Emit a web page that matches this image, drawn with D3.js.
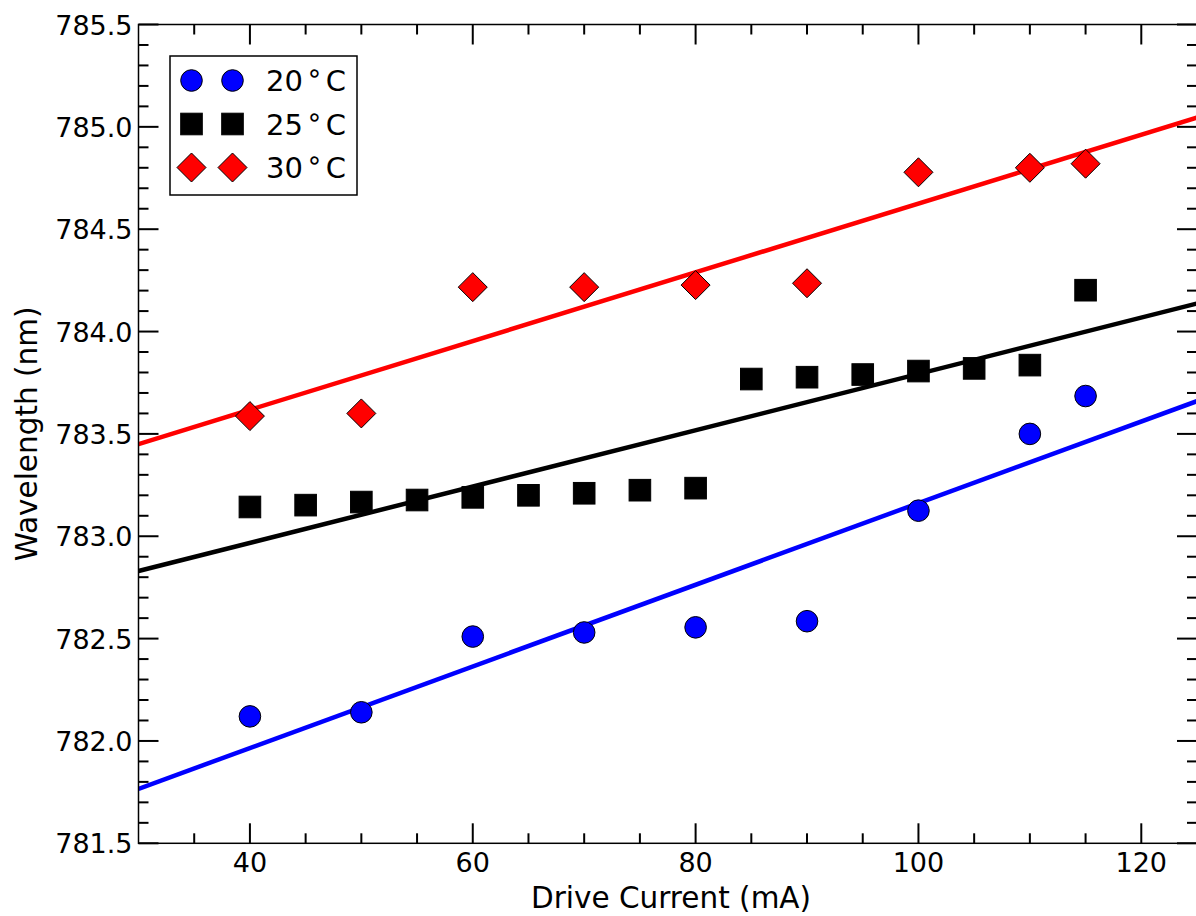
<!DOCTYPE html>
<html lang="en">
<head>
<meta charset="UTF-8">
<title>Wavelength vs Drive Current</title>
<script src="https://d3js.org/d3.v7.min.js"></script>
<style>
  body { margin: 0; background: #fff; }
  svg { display: block; font-family: "DejaVu Sans", sans-serif; }
  .tick-label { font-size: 27px; fill: #000; }
  .axis-title { font-size: 29.5px; fill: #000; }
  .legend-text { font-size: 29px; fill: #000; }
</style>
</head>
<body>
<svg width="1196" height="916"></svg>
<script>
// data
const current20 = [40, 50, 60, 70, 80, 90, 100, 110, 115];
const wave20 = [782.12, 782.14, 782.51, 782.53, 782.555, 782.585, 783.125, 783.50, 783.685];

const current25 = [40, 45, 50, 55, 60, 65, 70, 75, 80, 85, 90, 95, 100, 105, 110, 115];
const wave25 = [783.143, 783.152, 783.167, 783.177, 783.19, 783.2, 783.21, 783.225, 783.235,
                783.768, 783.777, 783.79, 783.807, 783.82, 783.836, 784.202];

const current30 = [40, 50, 60, 70, 80, 90, 100, 110, 115];
const wave30 = [783.587, 783.60, 784.217, 784.217, 784.227, 784.236, 784.778, 784.80, 784.82];

// fitted lines, end values at 30 and 125 mA
const fitX = [30, 125];
const fit20 = [781.766, 783.66];
const fit25 = [782.83, 784.137];
const fit30 = [783.45, 785.045];

const xTicks = [40, 60, 80, 100, 120];
const yTicks = [781.5, 782.0, 782.5, 783.0, 783.5, 784.0, 784.5, 785.0, 785.5];

const series = [
  {label: "20", x: current20, y: wave20, fit: fit20, color: "#0000ff", shape: "circle"},
  {label: "25", x: current25, y: wave25, fit: fit25, color: "#000000", shape: "square"},
  {label: "30", x: current30, y: wave30, fit: fit30, color: "#ff0000", shape: "diamond"}
];

const svg = d3.select("svg");
const pLeft = 138.5, pRight = 1197, pTop = 24.5, pBottom = 843.3;

const x = d3.scaleLinear().domain([30, 125]).range([pLeft, pRight]);
const y = d3.scaleLinear().domain([781.5, 785.5]).range([pBottom, pTop]);

// clip for the plot area
svg.append("clipPath").attr("id", "clip")
  .append("rect").attr("x", pLeft).attr("y", pTop)
  .attr("width", pRight - pLeft).attr("height", pBottom - pTop);

const plot = svg.append("g");

// fit lines
const line = d3.line().x(d => x(d[0])).y(d => y(d[1]));
plot.append("g").attr("clip-path", "url(#clip)")
  .selectAll("path")
  .data(series)
  .enter().append("path")
  .attr("d", s => line(fitX.map((v, i) => [v, s.fit[i]])))
  .attr("fill", "none")
  .attr("stroke", s => s.color)
  .attr("stroke-width", 4.5);

// markers
function drawMarker(g, shape, color) {
  if (shape === "circle") {
    g.append("circle").attr("r", 10.8).attr("fill", color)
      .attr("stroke", "#000").attr("stroke-width", 1);
  } else if (shape === "square") {
    g.append("rect").attr("x", -10.8).attr("y", -10.8).attr("width", 21.6).attr("height", 21.6)
      .attr("fill", color).attr("stroke", "#000").attr("stroke-width", 1);
  } else {
    g.append("path").attr("d", "M0,-14.5L14.5,0L0,14.5L-14.5,0Z").attr("fill", color)
      .attr("stroke", "#000").attr("stroke-width", 1);
  }
}

series.forEach(s => {
  const pts = s.x.map((v, i) => [v, s.y[i]]);
  plot.append("g").selectAll("g")
    .data(pts)
    .enter().append("g")
    .attr("transform", d => `translate(${x(d[0])},${y(d[1])})`)
    .each(function() { drawMarker(d3.select(this), s.shape, s.color); });
});

// frame
svg.append("rect")
  .attr("x", pLeft).attr("y", pTop).attr("width", pRight - pLeft).attr("height", pBottom - pTop)
  .attr("fill", "none").attr("stroke", "#000").attr("stroke-width", 1.5);

// ticks, all pointing inward on four sides
const ticks = svg.append("g").attr("stroke", "#000").attr("stroke-width", 2);
const xMinor = d3.range(35, 125, 5).filter(v => !xTicks.includes(v));
const yMinor = d3.range(0, 41).map(i => 781.5 + i * 0.1)
  .filter(v => !yTicks.some(t => Math.abs(t - v) < 1e-6));

xTicks.forEach(v => {
  ticks.append("line").attr("x1", x(v)).attr("x2", x(v)).attr("y1", pBottom).attr("y2", pBottom - 20);
  ticks.append("line").attr("x1", x(v)).attr("x2", x(v)).attr("y1", pTop).attr("y2", pTop + 20);
});
xMinor.forEach(v => {
  ticks.append("line").attr("x1", x(v)).attr("x2", x(v)).attr("y1", pBottom).attr("y2", pBottom - 10);
  ticks.append("line").attr("x1", x(v)).attr("x2", x(v)).attr("y1", pTop).attr("y2", pTop + 10);
});
yTicks.forEach(v => {
  ticks.append("line").attr("x1", pLeft).attr("x2", pLeft + 20).attr("y1", y(v)).attr("y2", y(v));
  ticks.append("line").attr("x1", pRight).attr("x2", pRight - 20).attr("y1", y(v)).attr("y2", y(v));
});
yMinor.forEach(v => {
  ticks.append("line").attr("x1", pLeft).attr("x2", pLeft + 10).attr("y1", y(v)).attr("y2", y(v));
  ticks.append("line").attr("x1", pRight).attr("x2", pRight - 10).attr("y1", y(v)).attr("y2", y(v));
});

// tick labels
svg.append("g").selectAll("text")
  .data(xTicks)
  .enter().append("text")
  .attr("class", "tick-label")
  .attr("x", d => x(d)).attr("y", pBottom + 29)
  .attr("text-anchor", "middle")
  .text(d => d);

svg.append("g").selectAll("text")
  .data(yTicks)
  .enter().append("text")
  .attr("class", "tick-label")
  .attr("x", pLeft - 6).attr("y", d => y(d) + 10)
  .attr("text-anchor", "end")
  .text(d => d.toFixed(1));

// axis titles
svg.append("text").attr("class", "axis-title")
  .attr("x", 671).attr("y", 908)
  .attr("text-anchor", "middle")
  .text("Drive Current (mA)");

svg.append("text").attr("class", "axis-title")
  .attr("transform", `translate(37,${(pTop + pBottom) / 2}) rotate(-90)`)
  .attr("text-anchor", "middle")
  .text("Wavelength (nm)");

// legend
const legend = svg.append("g");
legend.append("rect")
  .attr("x", 170).attr("y", 56).attr("width", 187).attr("height", 139)
  .attr("fill", "#fff").attr("stroke", "#000").attr("stroke-width", 1.5);

series.forEach((s, i) => {
  const cy = 80.5 + i * 43.5;
  [191.5, 232.5].forEach(cx => {
    const g = legend.append("g").attr("transform", `translate(${cx},${cy})`);
    drawMarker(g, s.shape, s.color);
  });
  const t = legend.append("text").attr("class", "legend-text")
    .attr("x", 266).attr("y", cy + 10.5);
  t.append("tspan").text(s.label);
  t.append("tspan").attr("dx", 3).attr("font-size", 27).attr("dy", -9).text("\u2218");
  t.append("tspan").attr("dx", 3).attr("dy", 9).text("C");
});
</script>
</body>
</html>
